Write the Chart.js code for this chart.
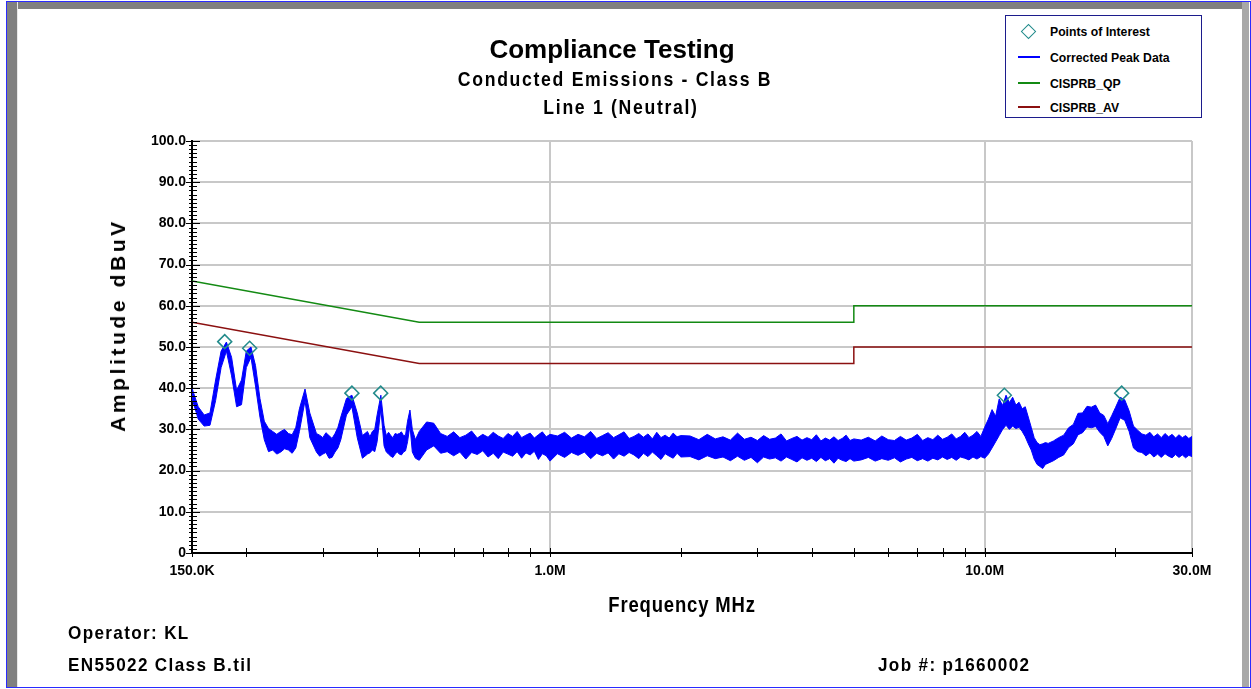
<!DOCTYPE html>
<html lang="en">
<head>
<meta charset="UTF-8">
<title>Compliance Testing - Conducted Emissions</title>
<script src="https://cdn.jsdelivr.net/npm/chart.js"></script>
<style>
    body {
        margin: 0;
        background: #fff;
        font-family: "Liberation Sans", Arial, sans-serif;
        font-weight: bold;
        color: #000;
    }
    .page { position: relative; width: 1251px; height: 689px; overflow: hidden; }
    .frame { position: absolute; left: 6px; top: 1px; width: 1243px; height: 685px; border: 1px solid #2a2aff; }
    .band-top { position: absolute; left: 7px; top: 2px; width: 1235px; height: 7px; background: #808080; }
    .band-left { position: absolute; left: 7px; top: 2px; width: 10px; height: 685px; background: #808080; border-right: 1px solid #e8e8e8; }
    .band-right { position: absolute; left: 1242px; top: 2px; width: 7px; height: 685px; background: #a8a8a8; }
    canvas { position: absolute; left: 0; top: 0; }
    .txt { position: absolute; white-space: nowrap; }
    /* the original uses a condensed bold face: squeeze Liberation Sans */
    .c { transform: translate(-50%, -50%) scaleX(0.84); }
    .title { left: 612px; top: 49px; font-size: 26px; transform: translate(-50%, -50%); }
    .sub { font-size: 21px; letter-spacing: 2px; }
    .ytitle { left: 118px; top: 325px; font-size: 21px; letter-spacing: 3.6px;
              transform: translate(-50%, -50%) rotate(-90deg); }
    .xtitle { left: 682px; top: 605px; font-size: 22px; letter-spacing: 1px; }
    .foot { font-size: 19px; letter-spacing: 1.5px; transform-origin: left center; transform: translateY(-50%) scaleX(0.9); }
    .legend { position: absolute; left: 1005px; top: 15px; width: 195px; height: 101px; border: 1px solid #1c1c8c; background: #fff; }
    .item { position: absolute; left: 44px; font-size: 13px; transform-origin: left center; transform: translateY(-50%) scaleX(0.94); white-space: nowrap; }
    .swatch { position: absolute; left: 12px; width: 22px; height: 2px; }
    .diamond { position: absolute; left: 17px; top: 10px; width: 9px; height: 9px; border: 1.5px solid #228b8b; transform: rotate(45deg); }
</style>
</head>
<body>
<div class="page">
    <div class="frame"></div>
    <div class="band-top"></div>
    <div class="band-left"></div>
    <div class="band-right"></div>
    <canvas id="chart" width="1251" height="689"></canvas>

    <div class="txt title">Compliance Testing</div>
    <div class="txt c sub" style="left:615px; top:79px;">Conducted Emissions - Class B</div>
    <div class="txt c sub" style="left:621px; top:107px;">Line 1 (Neutral)</div>
    <div class="txt ytitle">Amplitude dBuV</div>
    <div class="txt c xtitle">Frequency MHz</div>
    <div class="txt foot" style="left:68px; top:633px;">Operator: KL</div>
    <div class="txt foot" style="left:68px; top:665px;">EN55022 Class B.til</div>
    <div class="txt foot" style="left:878px; top:665px;">Job #: p1660002</div>

    <div class="legend">
        <div class="diamond"></div>
        <div class="item" style="top:15px;">Points of Interest</div>
        <div class="swatch" style="top:40px; background:#0000ff;"></div>
        <div class="item" style="top:41px;">Corrected Peak Data</div>
        <div class="swatch" style="top:66px; background:#138a13;"></div>
        <div class="item" style="top:67px;">CISPRB_QP</div>
        <div class="swatch" style="top:90px; background:#8b1010;"></div>
        <div class="item" style="top:91px;">CISPRB_AV</div>
    </div>
</div>

<script>
// scan frequencies (MHz) with the upper / lower edge of the peak detector trace (dBuV)
const freqMHz = [
    0.150, 0.155, 0.160, 0.165, 0.170, 0.175, 0.180, 0.185, 0.190, 0.195,
    0.200, 0.205, 0.210, 0.215, 0.220, 0.225, 0.230, 0.235, 0.240, 0.245,
    0.250, 0.255, 0.260, 0.265, 0.273, 0.280, 0.290, 0.295, 0.300, 0.305,
    0.310, 0.315, 0.320, 0.325, 0.330, 0.340, 0.350, 0.360, 0.370, 0.375,
    0.380, 0.385, 0.390, 0.395, 0.400, 0.408, 0.415, 0.420, 0.425, 0.430,
    0.435, 0.440, 0.445, 0.450, 0.455, 0.460, 0.465, 0.470, 0.476, 0.482,
    0.490, 0.500,
    0.52, 0.54, 0.56, 0.58, 0.60, 0.62, 0.64, 0.66, 0.68, 0.70, 0.72, 0.74, 0.76,
    0.78, 0.80, 0.82, 0.84, 0.86, 0.88, 0.90, 0.92, 0.94, 0.96, 0.98, 1.00,
    1.04, 1.08, 1.12, 1.16, 1.20, 1.24, 1.28, 1.32, 1.36, 1.40, 1.44, 1.48, 1.52,
    1.56, 1.60, 1.64, 1.68, 1.72, 1.76, 1.80, 1.84, 1.88, 1.92, 1.96, 2.00,
    2.1, 2.2, 2.3, 2.4, 2.5, 2.6, 2.7, 2.8, 2.9, 3.0, 3.1, 3.2, 3.3, 3.4, 3.5,
    3.6, 3.7, 3.8, 3.9, 4.0, 4.1, 4.2, 4.3, 4.4, 4.5, 4.6, 4.7, 4.8, 4.9, 5.0,
    5.2, 5.4, 5.6, 5.8, 6.0, 6.2, 6.4, 6.6, 6.8, 7.0, 7.2, 7.4, 7.6, 7.8, 8.0,
    8.2, 8.4, 8.6, 8.8, 9.0, 9.2, 9.4, 9.6, 9.8,
    10.0, 10.2, 10.4, 10.6, 10.8, 11.0, 11.2, 11.4, 11.6, 11.8, 12.0, 12.2, 12.4,
    12.6, 12.8, 13.0, 13.2, 13.4, 13.6, 13.8, 14.0,
    14.4, 14.8, 15.2, 15.6, 16.0, 16.4, 16.8, 17.2, 17.6, 18.0, 18.4, 18.8, 19.2, 19.6,
    20.0, 20.5, 21.0, 21.5, 22.0, 22.5, 23.0, 23.5, 24.0, 24.5, 25.0, 25.5, 26.0,
    26.5, 27.0, 27.5, 28.0, 28.5, 29.0, 29.5, 30.0
];
const peakHi = [
    40.0, 35.5, 33.5, 34.0, 42.0, 49.0, 51.2, 47.5, 39.5, 42.0,
    49.0, 50.0, 45.5, 37.5, 32.0, 30.2, 29.5, 28.8, 29.5, 30.0,
    29.0, 28.7, 30.5, 35.0, 39.8, 34.0, 29.0, 28.6, 28.0, 29.2,
    28.5, 27.8, 29.0, 30.5, 33.0, 37.5, 38.3, 34.0, 28.5, 29.0,
    29.5, 28.2, 29.5, 30.0, 33.5, 38.3, 31.0, 28.5, 29.3, 28.5,
    28.0, 29.0, 28.8, 29.0, 29.4, 28.5, 28.6, 32.0, 34.7, 30.0,
    27.5, 29.5,
    31.8, 31.5, 29.0, 28.3, 29.4, 28.0, 28.6, 29.6, 27.9, 28.8, 28.1, 29.3, 28.4,
    27.8, 29.0, 28.3, 29.5, 28.0, 28.6, 29.1, 27.9, 28.7, 29.4, 28.2, 28.8,
    28.4, 29.3, 27.9, 28.8, 28.2, 29.5, 27.8, 28.5, 29.2, 28.0, 28.7, 29.4, 27.8,
    28.3, 29.0, 28.1, 28.9, 27.7, 29.3, 28.0, 28.6, 27.9, 29.1, 28.2, 28.5,
    28.4, 27.5, 28.8, 27.7, 28.2, 27.4, 29.1, 27.6, 28.1, 27.3, 28.5, 27.6, 27.9, 28.9, 27.2,
    27.8, 28.3, 27.4, 28.0, 27.5, 28.7, 27.2, 27.9, 27.4, 28.2, 27.3, 27.8, 28.6, 27.3, 27.7,
    27.4, 28.1, 27.2, 28.4, 27.5, 27.3, 28.3, 27.4, 27.9, 28.8, 27.3, 28.0, 27.5, 28.6, 27.6,
    28.1, 28.9, 27.7, 28.3, 29.3, 28.0, 28.6, 29.5, 28.3,
    30.5, 32.5, 34.8, 33.2, 37.4, 35.8, 38.3, 36.5, 37.8, 35.9, 36.6, 35.0, 35.5,
    33.0, 30.5, 28.0, 26.8, 26.3, 26.5, 26.8, 26.6,
    27.2, 28.0, 28.6, 30.4, 31.2, 33.9, 34.0, 35.6, 35.4, 35.9, 34.0, 33.4, 31.4, 33.3,
    35.3, 37.8, 37.2, 34.5, 30.8, 29.8, 28.9, 28.6, 29.3, 28.2, 28.9, 28.0, 29.0,
    28.2, 28.8, 27.9, 28.7, 28.0, 28.5, 27.8, 28.3
];
const peakLo = [
    37.5, 32.5, 30.8, 31.0, 37.0, 45.0, 49.0, 43.0, 35.5, 36.0,
    45.0, 47.5, 40.5, 33.0, 27.5, 24.6, 25.0, 24.0, 24.5, 25.3,
    25.0, 24.2, 25.5, 29.5, 37.0, 28.0, 24.5, 23.5, 24.0, 24.4,
    23.0, 23.2, 24.5, 25.5, 27.5, 33.5, 35.5, 28.0, 23.0, 23.5,
    24.0, 24.3, 25.0, 24.6, 27.0, 35.0, 26.0, 24.5, 24.0, 23.5,
    23.2, 24.0, 24.5, 24.0, 23.8, 24.5, 24.8, 27.0, 31.0, 24.5,
    23.0, 22.5,
    25.0, 26.0, 24.2, 24.6, 23.6, 24.5, 22.8, 24.4, 23.9, 24.8, 23.3, 24.2, 22.9,
    24.5, 24.0, 23.5, 24.6, 23.0, 24.3, 23.8, 24.7, 22.7, 24.1, 23.6, 22.3,
    24.1, 23.2, 24.4, 23.7, 24.5, 22.9, 24.2, 23.6, 24.3, 22.8, 24.1, 23.5, 24.4,
    23.8, 22.9, 24.2, 23.4, 24.5, 23.6, 22.7, 24.1, 23.5, 23.0, 24.2, 23.3,
    23.4, 22.6, 23.6, 22.9, 23.3, 22.4, 23.5, 22.5, 23.2, 21.9, 23.3, 22.8, 23.1, 22.3, 23.3,
    22.7, 22.1, 23.1, 22.5, 23.0, 22.2, 23.2, 22.4, 22.9, 21.8, 23.0, 22.5, 22.2, 22.9, 22.3,
    22.6, 23.2, 22.3, 22.9, 22.5, 23.1, 22.1, 22.8, 23.2, 22.4, 22.9, 22.3, 23.0, 22.6, 23.3,
    22.7, 23.2, 22.5, 23.3, 23.0, 22.6, 23.3, 22.8, 23.4,
    23.0, 24.0, 25.5, 27.0, 28.5, 30.0, 31.0, 30.0, 30.8, 30.2, 30.5, 29.5, 28.2,
    26.5, 25.0, 22.8, 21.5, 21.0, 20.5, 21.5, 21.8,
    22.4, 23.2, 23.8, 25.6, 26.5, 28.7, 29.2, 30.6, 30.4, 30.7, 29.3, 28.3, 26.0, 27.8,
    30.0, 32.8, 32.2, 29.5, 25.5, 24.6, 24.4, 23.6, 24.3, 23.3, 24.0, 23.2, 24.1,
    23.5, 23.1, 23.9, 23.2, 23.8, 23.1, 23.7, 23.4
];

// CISPR 22 class B limit lines
const limitFreq = [0.15, 0.5, 5, 5, 30];
const qpLimit = [66, 56, 56, 60, 60];
const avLimit = [56, 46, 46, 50, 50];

// points of interest (diamonds)
const poiFreq = [0.1784, 0.2036, 0.350, 0.4077, 11.10, 20.67];
const poiLevel = [51.3, 49.7, 38.8, 38.8, 38.3, 38.8];

// axis ticks
const xTickValues = [0.15, 0.2, 0.3, 0.4, 0.5, 0.6, 0.7, 0.8, 0.9, 1, 2, 3, 4, 5, 6, 7, 8, 9, 10, 20, 30];
const xTickLabels = { 0.15: '150.0K', 1: '1.0M', 10: '10.0M', 30: '30.0M' };
const xGridValues = [1, 10, 30];
const yTickValues = [0, 10, 20, 30, 40, 50, 60, 70, 80, 90, 100];

const tickFont = { family: '"Liberation Sans", Arial, sans-serif', size: 14, weight: 'bold' };

function pts(xs, ys) {
    return xs.map((x, i) => ({ x: x, y: ys[i] }));
}

// small tick marks crossing the axes (minor every 1 dB on y)
const tickMarks = {
    id: 'tickMarks',
    afterDraw(chart) {
        const ctx = chart.ctx;
        const a = chart.chartArea;
        const x = chart.scales.x, y = chart.scales.y;
        ctx.save();
        ctx.strokeStyle = '#000';
        ctx.lineWidth = 1;
        ctx.beginPath();
        for (let v = 0; v <= 100; v++) {
            const py = Math.round(y.getPixelForValue(v)) + 0.5;
            const major = v % 10 === 0;
            ctx.moveTo(a.left - (major ? 6 : 3), py);
            ctx.lineTo(a.left + (major ? 8 : 5), py);
        }
        xTickValues.forEach(v => {
            const px = Math.round(x.getPixelForValue(v)) + 0.5;
            ctx.moveTo(px, a.bottom - 5);
            ctx.lineTo(px, a.bottom + 4);
        });
        ctx.stroke();
        ctx.restore();
    }
};

new Chart(document.getElementById('chart'), {
    type: 'line',
    data: {
        datasets: [
            {
                label: 'Points of Interest',
                data: pts(poiFreq, poiLevel),
                showLine: false,
                pointStyle: 'rectRot',
                pointRadius: 7,
                pointBorderWidth: 1.5,
                pointBorderColor: '#228b8b',
                pointBackgroundColor: 'rgba(255,255,255,0)'
            },
            {
                label: 'CISPRB_QP',
                data: pts(limitFreq, qpLimit),
                borderColor: '#138a13',
                borderWidth: 1.5,
                pointRadius: 0,
                fill: false
            },
            {
                label: 'CISPRB_AV',
                data: pts(limitFreq, avLimit),
                borderColor: '#8b1010',
                borderWidth: 1.5,
                pointRadius: 0,
                fill: false
            },
            {
                label: 'Corrected Peak Data',
                data: pts(freqMHz, peakHi),
                borderColor: '#0000ff',
                backgroundColor: '#0000ff',
                borderWidth: 1,
                pointRadius: 0,
                fill: '+1'
            },
            {
                label: 'Corrected Peak Data (low)',
                data: pts(freqMHz, peakLo),
                borderColor: '#0000ff',
                borderWidth: 1,
                pointRadius: 0,
                fill: false
            }
        ]
    },
    options: {
        responsive: false,
        animation: false,
        devicePixelRatio: 1,
        layout: { padding: { left: 130, right: 59, top: 141, bottom: 96 }, autoPadding: false },
        plugins: { legend: { display: false }, tooltip: { enabled: false } },
        scales: {
            x: {
                type: 'logarithmic',
                min: 0.15,
                max: 30,
                afterBuildTicks: s => { s.ticks = xTickValues.map(v => ({ value: v })); },
                afterFit: s => { s.height = 40; },
                grid: {
                    drawTicks: false,
                    lineWidth: 2,
                    color: c => (c.tick && xGridValues.includes(c.tick.value)) ? '#c8c8c8' : 'rgba(0,0,0,0)'
                },
                border: { color: '#000', width: 2 },
                ticks: {
                    autoSkip: false,
                    maxRotation: 0,
                    padding: 10,
                    color: '#000',
                    font: tickFont,
                    callback: v => xTickLabels[v] || ''
                }
            },
            y: {
                min: 0,
                max: 100,
                afterBuildTicks: s => { s.ticks = yTickValues.map(v => ({ value: v })); },
                afterFit: s => { s.width = 62; },
                grid: { drawTicks: false, lineWidth: 2, color: '#c8c8c8' },
                border: { color: '#000', width: 2 },
                ticks: {
                    padding: 6,
                    color: '#000',
                    font: tickFont,
                    callback: v => v === 0 ? '0' : v.toFixed(1)
                }
            }
        }
    },
    plugins: [tickMarks]
});
</script>
</body>
</html>
